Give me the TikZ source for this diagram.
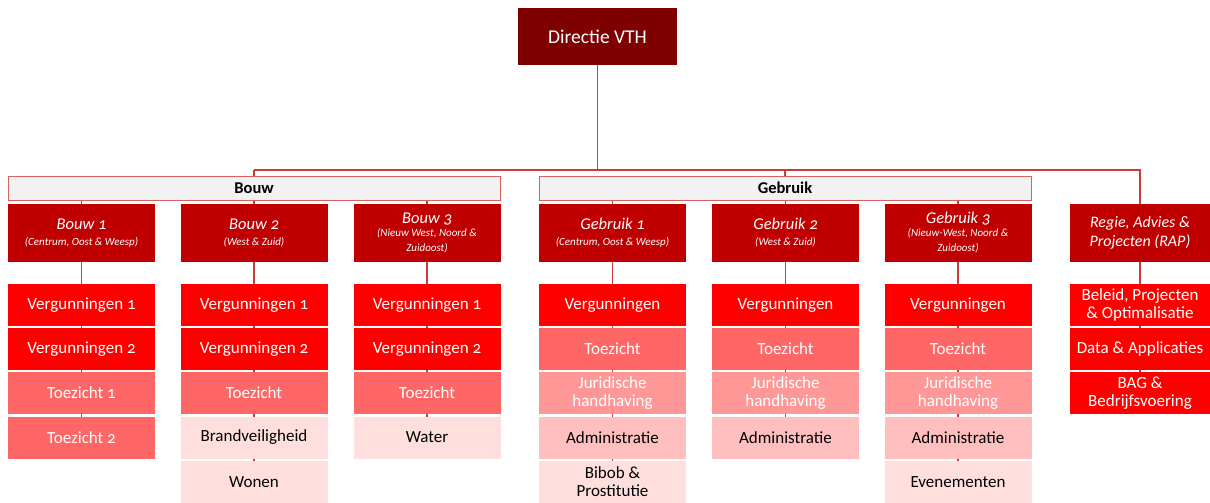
\documentclass[tikz,border=0pt]{standalone}
\usepackage{fontspec}
\setmainfont{Carlito}[Numbers=OldStyle]
\usetikzlibrary{backgrounds}

\definecolor{vthdir}{HTML}{7F0000}
\definecolor{vthhead}{HTML}{C00000}
\definecolor{vthverg}{HTML}{FF0000}
\definecolor{vthtoez}{HTML}{FF6666}
\definecolor{vthjur}{HTML}{FF9797}
\definecolor{vthadm}{HTML}{FFBFBF}
\definecolor{vthpale}{HTML}{FFDEDE}
\definecolor{vthline}{HTML}{CC3B3B}
\definecolor{vthbar}{HTML}{F2F2F2}

\tikzset{
  unit/.style={rectangle,inner sep=1pt,align=flush center,minimum width=147pt,
    minimum height=42pt,text width=142pt,
    font=\fontsize{17}{18}\selectfont},
  verg/.style={unit,fill=vthverg,text=white},
  toez/.style={unit,fill=vthtoez,text=white},
  jur/.style={unit,fill=vthjur,text=white},
  adm/.style={unit,fill=vthadm,text=black},
  pale/.style={unit,fill=vthpale,text=black},
  headbox/.style={unit,fill=vthhead,text=white,minimum height=58pt,
    font=\fontsize{16.5}{15}\selectfont\itshape},
  groupbar/.style={rectangle,draw=vthline!80,fill=vthbar,line width=0.8pt,
    minimum width=492pt,minimum height=24pt,inner sep=0pt,
    font=\fontsize{16.5}{18}\selectfont\bfseries},
  link/.style={draw=vthline,line width=1.2pt}
}
\newcommand{\subreg}[1]{\\[1pt]{\fontsize{11}{12}\selectfont #1}}

\begin{document}
\begin{tikzpicture}[x=1pt,y=-1pt]
\useasboundingbox (0,0) rectangle (1210,503);

% top
\node[unit,fill=vthdir,text=white,minimum width=159pt,minimum height=57pt,
  font=\fontsize{19.5}{20}\selectfont] (dir) at (597.5,36.5) {Directie VTH};
\coordinate (split) at (597.5,170);

% group bars
\node[groupbar] (bouw) at (254,188) {Bouw};
\node[groupbar] (gebruik) at (785,188) {Gebruik};

% afdelingen
\node[headbox] (b1) at (81.5,233) {Bouw 1\subreg{(Centrum, Oost \& Weesp)}};
\node[headbox] (b2) at (254,233) {Bouw 2\subreg{(West \& Zuid)}};
\node[headbox] (b3) at (427,233) {Bouw 3\subreg{(Nieuw West, Noord \&\\ Zuidoost)}};
\node[headbox] (g1) at (612.5,233) {Gebruik 1\subreg{(Centrum, Oost \& Weesp)}};
\node[headbox] (g2) at (785.5,233) {Gebruik 2\subreg{(West \& Zuid)}};
\node[headbox] (g3) at (958,233) {Gebruik 3\subreg{(Nieuw-West, Noord \&\\ Zuidoost)}};
\node[headbox,minimum width=140pt,text width=136pt,font=\fontsize{16}{19}\selectfont\itshape] (rap) at (1140,233)
  {Regie, Advies \&\\ Projecten (RAP)};

% Bouw 1
\node[verg] (b1a) at (81.5,305) {Vergunningen 1};
\node[verg] (b1b) at (81.5,349) {Vergunningen 2};
\node[toez] (b1c) at (81.5,393) {Toezicht 1};
\node[toez] (b1d) at (81.5,437.5) {Toezicht 2};

% Bouw 2
\node[verg] (b2a) at (254,305) {Vergunningen 1};
\node[verg] (b2b) at (254,349) {Vergunningen 2};
\node[toez] (b2c) at (254,393) {Toezicht};
\node[pale] (b2d) at (254,437.5) {Brandveiligheid};
\node[pale] (b2e) at (254,482) {Wonen};

% Bouw 3
\node[verg] (b3a) at (427,305) {Vergunningen 1};
\node[verg] (b3b) at (427,349) {Vergunningen 2};
\node[toez] (b3c) at (427,393) {Toezicht};
\node[pale] (b3d) at (427,437.5) {Water};

% Gebruik 1
\node[verg] (g1a) at (612.5,305) {Vergunningen};
\node[toez] (g1b) at (612.5,349) {Toezicht};
\node[jur] (g1c) at (612.5,393) {Juridische\\ handhaving};
\node[adm] (g1d) at (612.5,437.5) {Administratie};
\node[pale] (g1e) at (612.5,482) {Bibob \&\\ Prostitutie};

% Gebruik 2
\node[verg] (g2a) at (785.5,305) {Vergunningen};
\node[toez] (g2b) at (785.5,349) {Toezicht};
\node[jur] (g2c) at (785.5,393) {Juridische\\ handhaving};
\node[adm] (g2d) at (785.5,437.5) {Administratie};

% Gebruik 3
\node[verg] (g3a) at (958,305) {Vergunningen};
\node[toez] (g3b) at (958,349) {Toezicht};
\node[jur] (g3c) at (958,393) {Juridische\\ handhaving};
\node[adm] (g3d) at (958,437.5) {Administratie};
\node[pale] (g3e) at (958,482) {Evenementen};

% RAP
\node[verg,minimum width=140pt,text width=138pt] (ra) at (1140,305)
  {Beleid, Projecten\\ \& Optimalisatie};
\node[verg,minimum width=140pt,text width=138pt] (rb) at (1140,349)
  {Data \& Applicaties};
\node[verg,minimum width=140pt,text width=138pt] (rc) at (1140,393)
  {BAG \&\\ Bedrijfsvoering};

% lijnen
\begin{scope}[on background layer]
\draw[link] (dir.south) -- (split);
\draw[link] (bouw.north |- split) -- (rap.north |- split) -- (rap.north);
\draw[link] (bouw.north |- split) -- (bouw.north);
\draw[link] (gebruik.north |- split) -- (gebruik.north);
\draw[link] (b1.north |- bouw.south) -- (b1d.center);
\draw[link] (b2.north |- bouw.south) -- (b2e.center);
\draw[link] (b3.north |- bouw.south) -- (b3d.center);
\draw[link] (g1.north |- gebruik.south) -- (g1e.center);
\draw[link] (g2.north |- gebruik.south) -- (g2d.center);
\draw[link] (g3.north |- gebruik.south) -- (g3e.center);
\draw[link] (rap.center) -- (rc.center);
\end{scope}
\end{tikzpicture}
\end{document}
